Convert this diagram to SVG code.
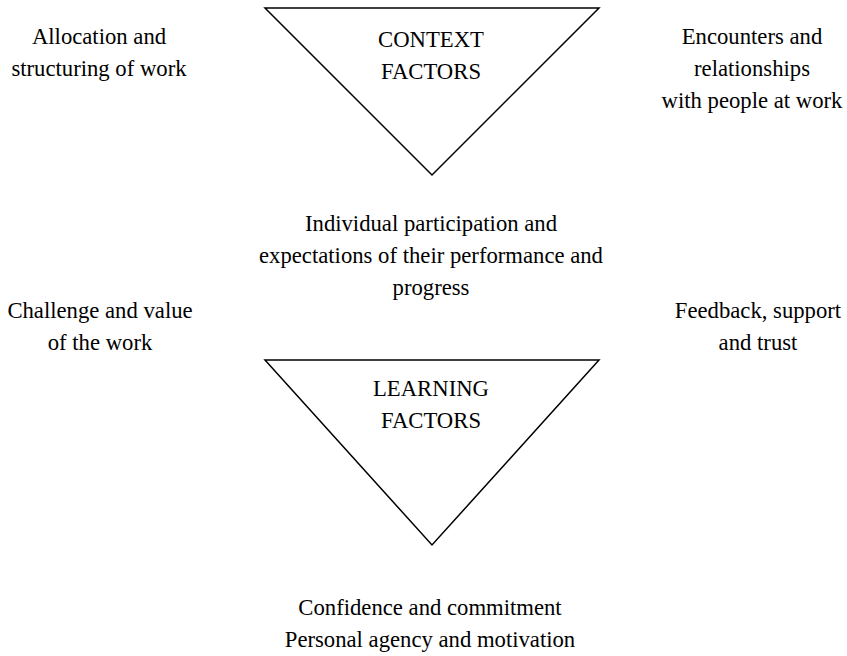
<svg xmlns="http://www.w3.org/2000/svg" width="847" height="656" viewBox="0 0 847 656">
<style>
text{font-family:"Liberation Serif","Times New Roman",serif;font-size:22.7px;fill:#000;text-anchor:middle}
.tri{fill:#fff;stroke:#000;stroke-width:1.5}
</style>
<rect width="847" height="656" fill="#fff"/>
<g id="context">
<polygon class="tri" points="265,8 599,8 432,175"/>
<text x="431" y="47">CONTEXT</text>
<text x="431" y="79">FACTORS</text>
</g>
<g id="learning">
<polygon class="tri" points="265,360 599,360 432,545"/>
<text x="431" y="396">LEARNING</text>
<text x="431" y="428">FACTORS</text>
</g>
<g id="allocation">
<text x="99" y="44">Allocation and</text>
<text x="99" y="76">structuring of work</text>
</g>
<g id="encounters">
<text x="752" y="44">Encounters and</text>
<text x="752" y="76">relationships</text>
<text x="752" y="108">with people at work</text>
</g>
<g id="individual">
<text x="431" y="231">Individual participation and</text>
<text x="431" y="263">expectations of their performance and</text>
<text x="431" y="295">progress</text>
</g>
<g id="challenge">
<text x="100" y="318">Challenge and value</text>
<text x="100" y="350">of the work</text>
</g>
<g id="feedback">
<text x="758" y="318">Feedback, support</text>
<text x="758" y="350">and trust</text>
</g>
<g id="confidence">
<text x="430" y="615">Confidence and commitment</text>
<text x="430" y="647">Personal agency and motivation</text>
</g>
<g id="connectors"></g>
</svg>
